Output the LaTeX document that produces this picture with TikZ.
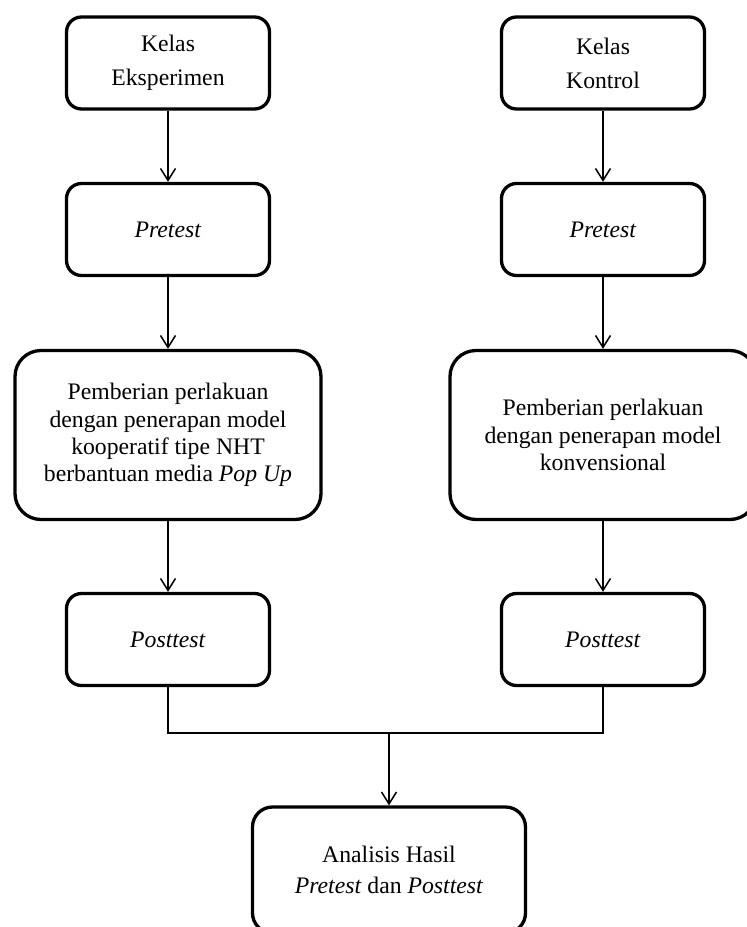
\documentclass[tikz,border=0pt]{standalone}
\usepackage{fontspec}
\setmainfont{Liberation Serif}
\usetikzlibrary{arrows.meta}
\begin{document}
\begin{tikzpicture}[x=1pt,y=-1pt,
  box/.style={draw, line width=3.3pt, rounded corners=15pt, align=center,
    inner sep=0pt, font=\fontsize{23.7}{34}\selectfont},
  smallbox/.style={box, minimum width=203pt, minimum height=92pt},
  bigbox/.style={box, rounded corners=26pt, minimum width=306pt, minimum height=169pt,
    font=\fontsize{23.7}{27.3}\selectfont},
  endbox/.style={box, rounded corners=20pt, minimum width=273pt, minimum height=126pt,
    font=\fontsize{23.7}{31.5}\selectfont},
  conn/.style={line width=1.4pt},
  arr/.style={conn, -{Straight Barb[length=12pt,width=15pt,line width=1.5pt]}}]
\useasboundingbox (0,0) rectangle (747,927);
\node[smallbox] (ke) at (168,63) {Kelas\\Eksperimen};
\node[smallbox] (kk) at (603,63) {Kelas\\Kontrol};
\node[smallbox] (pe) at (168,229.5) {\textit{Pretest}};
\node[smallbox] (pk) at (603,229.5) {\textit{Pretest}};
\node[bigbox] (ple) at (168,435) {Pemberian perlakuan\\dengan penerapan model\\kooperatif tipe NHT\\berbantuan media \textit{Pop Up}};
\node[bigbox] (plk) at (603,435) {Pemberian perlakuan\\dengan penerapan model\\konvensional};
\node[smallbox] (qe) at (168,639.5) {\textit{Posttest}};
\node[smallbox] (qk) at (603,639.5) {\textit{Posttest}};
\node[endbox] (an) at (389,870) {Analisis Hasil\\\textit{Pretest} dan \textit{Posttest}};
\coordinate (j) at (389,733);
\draw[arr] (ke) -- (pe);
\draw[arr] (kk) -- (pk);
\draw[arr] (pe) -- (ple);
\draw[arr] (pk) -- (plk);
\draw[arr] (ple) -- (qe);
\draw[arr] (plk) -- (qk);
\draw[conn] (qe.south) |- (j) -| (qk.south);
\draw[arr] (j) -- (an.north);
\end{tikzpicture}
\end{document}
